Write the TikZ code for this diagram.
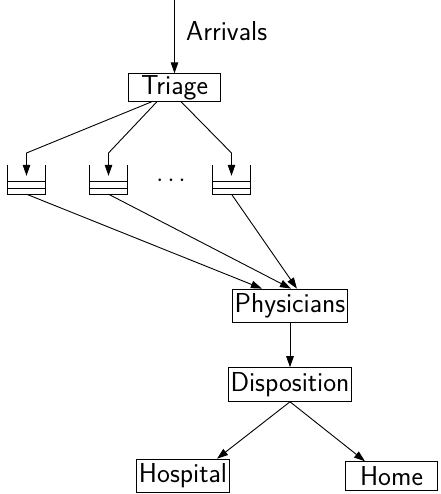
\documentclass[tikz,border=0pt]{standalone}
\usetikzlibrary{arrows.meta,calc}
\begin{document}
\begin{tikzpicture}[x=1pt,y=-1pt,
  every node/.style={font=\fontsize{27.4}{32}\selectfont\sffamily},
  box/.style={draw,line width=1pt,minimum width=92pt,inner xsep=2.3pt,inner ysep=4.6pt},
  queue/.style={minimum width=37pt,minimum height=29pt,inner sep=0pt},
  conn/.style={line width=0.9pt},
  arr/.style={conn,-{Triangle[length=11pt,width=7.5pt]}}]
\useasboundingbox (0,0) rectangle (440,494);

% stations
\node[box,inner ysep=1.4pt] (triage) at (174.5,87.5) {Triage};
\node[box] (phys) at (290,306) {Physicians};
\node[box] (disp) at (290,384.5) {Disposition};
\node[box] (hosp) at (183,476) {Hospital};
\node[box] (home) at (391.5,476) {Home};

% arrivals stream
\coordinate (src) at (174.5,0);
\draw[arr] (src) -- (triage.north);
\node[anchor=base west,inner sep=0pt] (arrivals) at (186,41) {Arrivals};

% waiting queues
\node[queue] (q1) at (26.5,179.5) {};
\node[queue] (q2) at (108.5,179.5) {};
\node[queue] (q3) at (231.5,179.5) {};
\node (dots) at (171,181) {$\cdots$};
\foreach \q in {q1,q2,q3} {
  \draw[conn] (\q.north west) -- (\q.south west) -- (\q.south east) -- (\q.north east);
  \draw[conn] ($(\q.south west)+(0,-13)$) -- ($(\q.south east)+(0,-13)$);
  \draw[conn] ($(\q.south west)+(0,-6)$) -- ($(\q.south east)+(0,-6)$);
}

% triage to queues
\coordinate (b1) at (26.5,153);
\coordinate (b2) at (108.5,153);
\coordinate (b3) at (231.5,153);
\draw[arr] ($(triage.south west)+(24,0)$) -- (b1) -- ($(q1.north)+(0,11)$);
\draw[arr] ($(triage.south west)+(29,0)$) -- (b2) -- ($(q2.north)+(0,11)$);
\draw[arr] ($(triage.south west)+(53,0)$) -- (b3) -- ($(q3.north)+(0,11)$);

% queues to physicians
\draw[arr] (q1.south) -- ($(phys.north west)+(30,0)$);
\draw[arr] (q2.south) -- ($(phys.north west)+(59,0)$);
\draw[arr] (q3.south) -- ($(phys.north west)+(65,0)$);

% physicians to disposition and outcomes
\draw[arr] (phys.south) -- (disp.north);
\draw[arr] (disp.south) -- ($(hosp.north)+(34,0)$);
\draw[arr] (disp.south) -- ($(home.north)+(-26.5,0)$);
\end{tikzpicture}
\end{document}
